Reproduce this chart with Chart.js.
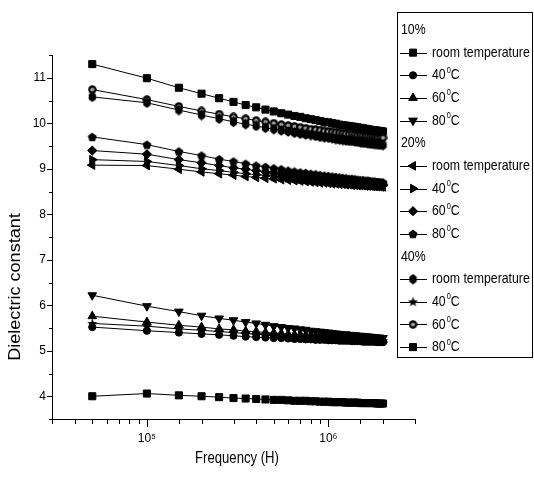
<!DOCTYPE html>
<html lang="en">
<head>
<meta charset="UTF-8">
<title>Dielectric constant vs frequency</title>
<script src="https://cdn.jsdelivr.net/npm/chart.js@4.4.0/dist/chart.umd.min.js"></script>
<style>
  html, body { margin: 0; padding: 0; background: #fff; }
  .chart-box { position: relative; width: 534px; height: 477px; }
</style>
</head>
<body>
<div class="chart-box"><canvas id="dielectricChart" width="534" height="477"></canvas></div>
<script>
// frequency (Hz) of each measured point
const frequency = [50000, 100000, 150000, 200000, 250000, 300000, 350000, 400000, 450000, 500000,
  550000, 600000, 650000, 700000, 750000, 800000, 850000, 900000, 950000, 1000000,
  1050000, 1100000, 1150000, 1200000, 1250000, 1300000, 1350000, 1400000, 1450000, 1500000,
  1550000, 1600000, 1650000, 1700000, 1750000, 1800000, 1850000, 1900000, 1950000, 2000000];

const groups = ['10%', '20%', '40%'];
const tempLabels = ['room temperature', '40', '60', '80'];

// 10 %
const pct10_room = [11.30, 10.99, 10.78, 10.65, 10.55, 10.47, 10.40, 10.35, 10.30, 10.26, 10.22, 10.19, 10.16, 10.14, 10.11, 10.09, 10.07, 10.05, 10.03, 10.02, 10.00, 9.99, 9.97, 9.96, 9.95, 9.94, 9.93, 9.92, 9.91, 9.90, 9.89, 9.88, 9.87, 9.86, 9.85, 9.85, 9.84, 9.83, 9.83, 9.82];
const pct10_40 = [5.52, 5.44, 5.40, 5.37, 5.35, 5.33, 5.31, 5.30, 5.29, 5.28, 5.28, 5.27, 5.26, 5.26, 5.25, 5.25, 5.24, 5.24, 5.24, 5.23, 5.23, 5.23, 5.22, 5.22, 5.22, 5.22, 5.21, 5.21, 5.21, 5.21, 5.20, 5.20, 5.20, 5.20, 5.20, 5.20, 5.19, 5.19, 5.19, 5.19];
const pct10_60 = [5.76, 5.63, 5.56, 5.52, 5.48, 5.46, 5.43, 5.42, 5.40, 5.39, 5.38, 5.36, 5.35, 5.35, 5.34, 5.33, 5.32, 5.32, 5.31, 5.31, 5.30, 5.30, 5.29, 5.29, 5.28, 5.28, 5.28, 5.27, 5.27, 5.27, 5.26, 5.26, 5.26, 5.25, 5.25, 5.25, 5.25, 5.24, 5.24, 5.24];
const pct10_80 = [6.22, 5.98, 5.86, 5.77, 5.71, 5.67, 5.63, 5.60, 5.57, 5.54, 5.52, 5.50, 5.49, 5.47, 5.46, 5.44, 5.43, 5.42, 5.41, 5.40, 5.39, 5.38, 5.37, 5.36, 5.36, 5.35, 5.34, 5.34, 5.33, 5.33, 5.32, 5.32, 5.31, 5.31, 5.30, 5.30, 5.29, 5.29, 5.28, 5.28];
// 20 %
const pct20_room = [9.08, 9.07, 8.99, 8.93, 8.89, 8.86, 8.83, 8.81, 8.79, 8.78, 8.76, 8.75, 8.74, 8.73, 8.72, 8.71, 8.70, 8.69, 8.69, 8.68, 8.67, 8.67, 8.66, 8.66, 8.65, 8.65, 8.64, 8.64, 8.63, 8.63, 8.63, 8.62, 8.62, 8.62, 8.61, 8.61, 8.61, 8.61, 8.60, 8.60];
const pct20_40 = [9.20, 9.16, 9.07, 9.00, 8.96, 8.92, 8.89, 8.87, 8.85, 8.83, 8.81, 8.80, 8.79, 8.77, 8.76, 8.75, 8.74, 8.74, 8.73, 8.72, 8.71, 8.71, 8.70, 8.69, 8.69, 8.68, 8.68, 8.67, 8.67, 8.66, 8.66, 8.66, 8.65, 8.65, 8.65, 8.64, 8.64, 8.64, 8.63, 8.63];
const pct20_60 = [9.40, 9.32, 9.20, 9.13, 9.07, 9.02, 8.99, 8.96, 8.93, 8.91, 8.89, 8.87, 8.85, 8.84, 8.83, 8.81, 8.80, 8.79, 8.78, 8.77, 8.76, 8.76, 8.75, 8.74, 8.73, 8.73, 8.72, 8.71, 8.71, 8.70, 8.70, 8.69, 8.69, 8.68, 8.68, 8.68, 8.67, 8.67, 8.66, 8.66];
const pct20_80 = [9.70, 9.53, 9.38, 9.29, 9.21, 9.16, 9.11, 9.07, 9.04, 9.01, 8.99, 8.96, 8.94, 8.92, 8.91, 8.89, 8.88, 8.86, 8.85, 8.84, 8.83, 8.82, 8.81, 8.80, 8.79, 8.78, 8.78, 8.77, 8.76, 8.75, 8.75, 8.74, 8.74, 8.73, 8.72, 8.72, 8.71, 8.71, 8.70, 8.70];
// 40 %
const pct40_room = [10.58, 10.45, 10.29, 10.18, 10.10, 10.03, 9.98, 9.94, 9.90, 9.87, 9.84, 9.82, 9.79, 9.77, 9.75, 9.74, 9.72, 9.70, 9.69, 9.68, 9.67, 9.65, 9.64, 9.63, 9.62, 9.61, 9.61, 9.60, 9.59, 9.58, 9.57, 9.57, 9.56, 9.55, 9.55, 9.54, 9.54, 9.53, 9.53, 9.52];
const pct40_40 = [5.60, 5.54, 5.48, 5.45, 5.42, 5.40, 5.38, 5.36, 5.35, 5.34, 5.33, 5.32, 5.31, 5.31, 5.30, 5.29, 5.29, 5.28, 5.28, 5.27, 5.27, 5.27, 5.26, 5.26, 5.26, 5.25, 5.25, 5.25, 5.24, 5.24, 5.24, 5.24, 5.23, 5.23, 5.23, 5.23, 5.23, 5.22, 5.22, 5.22];
const pct40_60 = [10.74, 10.52, 10.37, 10.27, 10.20, 10.14, 10.10, 10.06, 10.03, 10.00, 9.97, 9.95, 9.93, 9.91, 9.89, 9.87, 9.86, 9.85, 9.83, 9.82, 9.81, 9.80, 9.79, 9.78, 9.77, 9.76, 9.76, 9.75, 9.74, 9.74, 9.73, 9.72, 9.72, 9.71, 9.71, 9.70, 9.69, 9.69, 9.69, 9.68];
const pct40_80 = [4.00, 4.06, 4.02, 4.00, 3.98, 3.96, 3.95, 3.94, 3.93, 3.92, 3.92, 3.91, 3.90, 3.90, 3.90, 3.89, 3.89, 3.88, 3.88, 3.88, 3.87, 3.87, 3.87, 3.87, 3.86, 3.86, 3.86, 3.86, 3.86, 3.85, 3.85, 3.85, 3.85, 3.85, 3.85, 3.85, 3.84, 3.84, 3.84, 3.84];

const seriesValues = [pct10_room, pct10_40, pct10_60, pct10_80,
                      pct20_room, pct20_40, pct20_60, pct20_80,
                      pct40_room, pct40_40, pct40_60, pct40_80];

// small canvases for marker shapes chart.js does not have
function makeMarker(w, h, draw) {
    const c = document.createElement('canvas');
    c.width = w; c.height = h;
    const g = c.getContext('2d');
    g.fillStyle = '#000'; g.strokeStyle = '#000';
    draw(g, w, h);
    return c;
}
function polygon(g, cx, cy, rx, ry, n, start) {
    g.beginPath();
    for (let i = 0; i < n; i++) {
        const a = start + i * 2 * Math.PI / n;
        g.lineTo(cx + rx * Math.cos(a), cy + ry * Math.sin(a));
    }
    g.closePath(); g.fill();
}
const pentagon = makeMarker(10, 10, (g) => polygon(g, 5, 5.4, 4.7, 4.7, 5, -Math.PI / 2));
const hexagon = makeMarker(9, 11, (g) => polygon(g, 4.5, 5.5, 4.2, 5.2, 6, -Math.PI / 2));
const star = makeMarker(11, 11, (g) => {
    g.beginPath();
    for (let i = 0; i < 10; i++) {
        const r = i % 2 ? 2.2 : 5.3;
        const a = -Math.PI / 2 + i * Math.PI / 5;
        g.lineTo(5.5 + r * Math.cos(a), 5.8 + r * Math.sin(a));
    }
    g.closePath(); g.fill();
});
const halfCircle = makeMarker(9, 9, (g) => {
    g.beginPath(); g.arc(4.5, 4.5, 4.2, 0, 2 * Math.PI); g.fill();
    g.fillStyle = '#9a9a9a';
    g.beginPath(); g.arc(4.5, 4.5, 2.1, 0, 2 * Math.PI); g.fill();
});

const markers = [
    {pointStyle: 'rect', radius: 5, rotation: 0},
    {pointStyle: 'circle', radius: 3.6, rotation: 0},
    {pointStyle: 'triangle', radius: 5, rotation: 0},
    {pointStyle: 'triangle', radius: 5, rotation: 180},
    {pointStyle: 'triangle', radius: 5, rotation: 270},
    {pointStyle: 'triangle', radius: 5, rotation: 90},
    {pointStyle: 'rectRot', radius: 4.6, rotation: 0},
    {pointStyle: pentagon, radius: 5, rotation: 0},
    {pointStyle: hexagon, radius: 5, rotation: 0},
    {pointStyle: star, radius: 5, rotation: 0},
    {pointStyle: halfCircle, radius: 5, rotation: 0},
    {pointStyle: 'rect', radius: 5, rotation: 0}
];

const datasets = seriesValues.map((vals, i) => ({
    label: groups[Math.floor(i / 4)] + ' ' + tempLabels[i % 4],
    data: vals.map((v, j) => ({x: frequency[j], y: v})),
    borderColor: '#000',
    borderWidth: 1,
    backgroundColor: '#000',
    pointBackgroundColor: '#000',
    pointBorderColor: '#000',
    pointBorderWidth: 1,
    pointStyle: markers[i].pointStyle,
    pointRadius: markers[i].radius,
    pointRotation: markers[i].rotation,
    fill: false,
    tension: 0
}));

const fontFamily = '"Liberation Sans", Arial, sans-serif';

// text with a horizontal stretch factor (the original uses a condensed Arial)
function stretchedText(ctx, text, x, y, size, sx, align) {
    ctx.save();
    ctx.font = size + 'px ' + fontFamily;
    ctx.translate(x, y);
    ctx.scale(sx, 1);
    ctx.textAlign = align || 'left';
    ctx.fillText(text, 0, 0);
    const w = ctx.measureText(text).width * sx;
    ctx.restore();
    return w;
}

// tick marks, axis titles
const axisDecor = {
    id: 'axisDecor',
    afterDraw(chart) {
        const {ctx, chartArea: a, scales: {x, y}} = chart;
        ctx.save();
        ctx.strokeStyle = '#000';
        ctx.lineWidth = 1;
        ctx.beginPath();
        y.ticks.forEach(t => {
            const py = Math.round(y.getPixelForValue(t.value)) + 0.5;
            const len = Number.isInteger(t.value) ? 5 : 3;
            ctx.moveTo(a.left - len, py); ctx.lineTo(a.left, py);
        });
        x.ticks.forEach(t => {
            const px = Math.round(x.getPixelForValue(t.value)) + 0.5;
            const len = Math.log10(t.value) % 1 === 0 ? 8 : 5;
            ctx.moveTo(px, a.bottom); ctx.lineTo(px, a.bottom + len);
        });
        ctx.stroke();

        ctx.fillStyle = '#000';
        ctx.textBaseline = 'middle';
        stretchedText(ctx, 'Frequency (H)', 237, 459, 16, 0.82, 'center');

        ctx.translate(16, 287);
        ctx.rotate(-Math.PI / 2);
        stretchedText(ctx, 'Dielectric constant', 0, 0, 16, 1.13, 'center');
        ctx.restore();
    }
};

// legend box with group headers
const groupLegend = {
    id: 'groupLegend',
    afterDraw(chart) {
        const ctx = chart.ctx;
        const box = {left: 397, top: 12, right: 533, bottom: 358};
        const firstRow = 30, step = 22.65;
        ctx.save();
        ctx.fillStyle = '#fff';
        ctx.fillRect(box.left, box.top, box.right - box.left, box.bottom - box.top);
        ctx.strokeStyle = '#000';
        ctx.lineWidth = 1;
        ctx.strokeRect(box.left + 0.5, box.top + 0.5, box.right - box.left - 1, box.bottom - box.top - 1);
        ctx.textBaseline = 'middle';
        ctx.fillStyle = '#000';
        let row = 0;
        groups.forEach((grp, gi) => {
            let ry = firstRow + step * row++;
            stretchedText(ctx, grp, 401, ry, 15, 0.82);
            tempLabels.forEach((lab, ti) => {
                ry = firstRow + step * row++;
                const m = markers[gi * 4 + ti];
                ctx.beginPath();
                ctx.moveTo(400, Math.round(ry) + 0.5); ctx.lineTo(427, Math.round(ry) + 0.5);
                ctx.stroke();
                Chart.helpers.drawPoint(ctx, {pointStyle: m.pointStyle, rotation: m.rotation, radius: m.radius, borderWidth: 1}, 413, ry);
                let tx = 432;
                tx += stretchedText(ctx, lab, tx, ry, 15, 0.82);
                if (ti > 0) {
                    tx += 1;
                    tx += stretchedText(ctx, '0', tx, ry - 5, 9, 0.82);
                    stretchedText(ctx, 'C', tx, ry, 15, 0.82);
                }
            });
        });
        ctx.restore();
    }
};

new Chart(document.getElementById('dielectricChart'), {
    type: 'line',
    data: {datasets},
    options: {
        responsive: false,
        animation: false,
        layout: {padding: {left: 0, top: 55, right: 119, bottom: 0}},
        plugins: {legend: {display: false}, tooltip: {enabled: false}},
        scales: {
            x: {
                type: 'logarithmic',
                min: 30000,
                max: 3000000,
                afterFit: s => { s.height = 58; },
                grid: {display: false, drawTicks: false},
                border: {display: true, color: '#000', width: 1},
                ticks: {
                    autoSkip: false,
                    maxRotation: 0,
                    padding: 12,
                    color: '#000',
                    font: {family: fontFamily, size: 12},
                    callback: v => v === 100000 ? '10\u2075' : (v === 1000000 ? '10\u2076' : '')
                }
            },
            y: {
                min: 3.5,
                max: 11.5,
                afterFit: s => { s.width = 52; },
                grid: {display: false, drawTicks: false},
                border: {display: true, color: '#000', width: 1},
                ticks: {
                    stepSize: 0.5,
                    autoSkip: false,
                    padding: 6,
                    color: '#000',
                    font: {family: fontFamily, size: 12},
                    callback: v => Number.isInteger(v) ? v : ''
                }
            }
        }
    },
    plugins: [axisDecor, groupLegend]
});
</script>
</body>
</html>
